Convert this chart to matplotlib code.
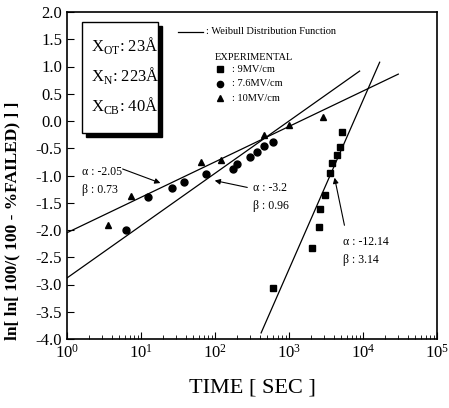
import numpy as np
import matplotlib
matplotlib.use("Agg")
import matplotlib.pyplot as plt
from matplotlib.patches import Rectangle

plt.rcParams['font.family'] = ['Liberation Serif', 'DejaVu Serif']
plt.rcParams['mathtext.fontset'] = 'custom'
plt.rcParams['mathtext.rm'] = 'Liberation Serif'

# ---- data ----
t_9mv = [610, 2050, 2540, 2630, 3080, 3570, 3810, 4450, 4900, 5200]
y_9mv = [-3.06, -2.33, -1.94, -1.61, -1.36, -0.95, -0.77, -0.62, -0.48, -0.20]

t_76mv = [6.3, 12.4, 26, 38, 76, 175, 200, 295, 370, 460, 610]
y_76mv = [-2.00, -1.39, -1.23, -1.12, -0.97, -0.88, -0.78, -0.66, -0.57, -0.46, -0.38]

t_10mv = [3.6, 7.3, 65, 120, 460, 1000, 2900]
y_10mv = [-1.91, -1.38, -0.75, -0.72, -0.26, -0.07, 0.07]

# Weibull fit lines: y = intercept + slope * log10(t)
fit_intercept = [-2.05, -2.88, -12.02]
fit_slope = [0.65, 0.96, 3.10]
fit_tmin = [1.0, 1.0, 420.0]
fit_tmax = [30000.0, 9000.0, 16800.0]

alpha_labels = ["-2.05", "-3.2", "-12.14"]
beta_labels = ["0.73", "0.96", "3.14"]

W, H = 449, 408
fig = plt.figure(figsize=(W / 100, H / 100), dpi=100)
L, R, T, B = 67, 437, 12, 339
ax = fig.add_axes([L / W, 1 - B / H, (R - L) / W, (B - T) / H])

def px2ax(x, y):
    return ((x - L) / (R - L), (B - y) / (B - T))

for a, s, t0, t1 in zip(fit_intercept, fit_slope, fit_tmin, fit_tmax):
    tt = np.logspace(np.log10(t0), np.log10(t1), 50)
    ax.plot(tt, a + s * np.log10(tt), color='black', lw=0.9)

ax.plot(t_9mv, y_9mv, 's', color='black', ms=4.5, ls='none')
ax.plot(t_76mv, y_76mv, 'o', color='black', ms=5, ls='none')
ax.plot(t_10mv, y_10mv, '^', color='black', ms=5, ls='none')

ax.set_xscale('log')
ax.set_xlim(1, 1e5)
ax.set_ylim(-4.0, 2.0)
ax.set_yticks(np.arange(-4.0, 2.01, 0.5))
ax.set_yticklabels([f"{v:.1f}" for v in np.arange(-4.0, 2.01, 0.5)])
ax.set_xticks([1, 10, 100, 1000, 1e4, 1e5])
ax.set_xticklabels([r"$\mathregular{10^{%d}}$" % i for i in range(6)])
ax.tick_params(direction='in', which='both', labelsize=12, top=False, right=False)
ax.tick_params(which='major', length=5)
ax.tick_params(which='minor', length=3)
for sp in ax.spines.values():
    sp.set_linewidth(1.2)

ax.set_xlabel("TIME [ SEC ]", fontsize=16, labelpad=12)
ax.set_ylabel("ln[ ln[ 100/( 100 - %FAILED) ] ]", fontsize=12.5, fontweight='bold')
ax.yaxis.set_label_coords(-0.125, 0.36)

# box with shadow
x0, y0 = px2ax(82, 133)
x1, y1 = px2ax(158, 22)
sx0, sy0 = px2ax(86, 137)
ax.add_patch(Rectangle((sx0, sy0), x1 - x0, y1 - y0, transform=ax.transAxes,
                       facecolor='black', edgecolor='black', zorder=4))
ax.add_patch(Rectangle((x0, y0), x1 - x0, y1 - y0, transform=ax.transAxes,
                       facecolor='white', edgecolor='black', lw=1.0, zorder=5))
for txt, yy in [(r"X$_{\mathregular{OT}}$: 23Å", 45), (r"X$_{\mathregular{N}}$: 223Å", 75),
                (r"X$_{\mathregular{CB}}$: 40Å", 106)]:
    ax.text(*px2ax(91, yy), txt, transform=ax.transAxes, fontsize=12, va='center',
            ha='left', zorder=6)

# legend
lx0, ly = px2ax(178, 32)
lx1, _ = px2ax(203, 32)
ax.plot([lx0, lx1], [ly, ly], transform=ax.transAxes, color='black', lw=0.9)
ax.text(*px2ax(206, 32), ": Weibull Distribution Function", transform=ax.transAxes,
        fontsize=7.5, va='center')
ax.text(*px2ax(215, 57), "EXPERIMENTAL", transform=ax.transAxes, fontsize=7.5, va='center')
for mk, yy, lab in [('s', 69, ": 9MV/cm"), ('o', 84, ": 7.6MV/cm"), ('^', 98, ": 10MV/cm")]:
    mx, my = px2ax(220, yy)
    ax.plot([mx], [my], mk, color='black', ms=4.5, transform=ax.transAxes)
    ax.text(*px2ax(232, yy), lab, transform=ax.transAxes, fontsize=7.5, va='center')

# annotations
ann = [((82, 181), (120, 168), (163, 184)),
       ((253, 197), (250, 188), (212, 180)),
       ((343, 251), (345, 228), (334, 175))]
for (tx, ty), (ax0, ay0), (ax1, ay1), al, be in zip(
        [a[0] for a in ann], [a[1] for a in ann], [a[2] for a in ann],
        alpha_labels, beta_labels):
    ax.text(*px2ax(tx, ty), f"α : {al}\nβ : {be}", transform=ax.transAxes,
            fontsize=8.5, va='center', ha='left', linespacing=1.6)
    ax.annotate("", xy=px2ax(ax1, ay1), xycoords='axes fraction',
                xytext=px2ax(ax0, ay0), textcoords='axes fraction',
                arrowprops=dict(arrowstyle='-|>', color='black', lw=0.8,
                                mutation_scale=8))

fig.savefig("out.png", dpi=100)
